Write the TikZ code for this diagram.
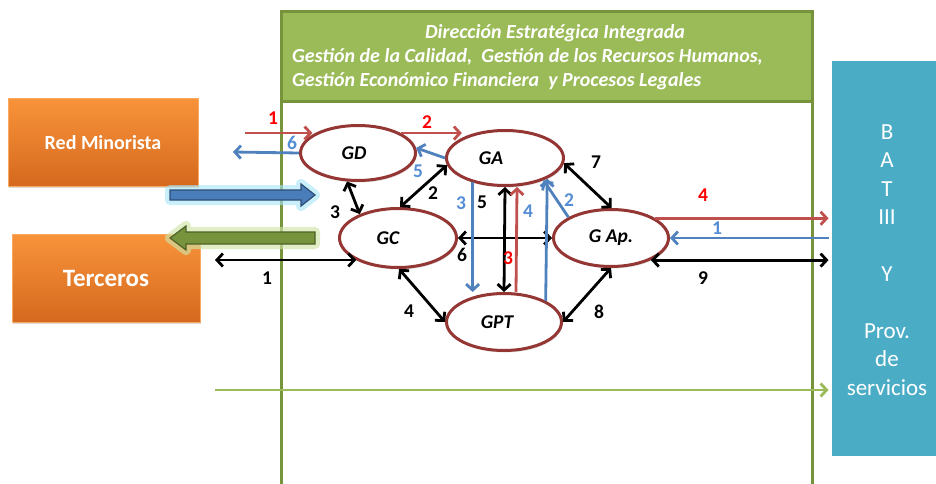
\documentclass[tikz,border=0pt]{standalone}
\usepackage{fontspec}
\setmainfont{Carlito}
\usetikzlibrary{arrows.meta,shapes.geometric,shadows,calc}
\definecolor{ellred}{HTML}{943634}
\definecolor{arrred}{HTML}{C0504D}
\definecolor{arrblue}{HTML}{4F81BD}
\definecolor{lblblue}{HTML}{558ED5}
\definecolor{lblred}{HTML}{FF0000}
\definecolor{hdrgreen}{HTML}{9BBB59}
\definecolor{hdrline}{HTML}{77933C}
\definecolor{tealbox}{HTML}{4BACC6}
\definecolor{orgtop}{HTML}{F8933A}
\definecolor{orgbot}{HTML}{D5691E}
\definecolor{bblue}{HTML}{4A7EBB}
\definecolor{bblueline}{HTML}{2C4D75}
\definecolor{bglow}{HTML}{A5E4F7}
\definecolor{bgreen}{HTML}{77933C}
\definecolor{bgreenline}{HTML}{4F6228}
\definecolor{gglow}{HTML}{CFE3A6}
\begin{document}
\begin{tikzpicture}[x=1pt,y=-1pt,
  frameline/.style={draw=hdrline,line width=3pt},
  header/.style={rectangle,fill=hdrgreen,draw=hdrline,line width=3pt,inner sep=0pt},
  hdrtext/.style={text=white,font=\fontsize{20}{24}\selectfont\bfseries\itshape,inner sep=0pt},
  proc/.style={ellipse,draw=ellred,fill=white,line width=3pt,inner sep=0pt,
    font=\fontsize{19.5}{22}\selectfont\bfseries\itshape,
    drop shadow={shadow xshift=1pt,shadow yshift=-2pt,opacity=0.25}},
  orgbox/.style={rectangle,top color=orgtop,bottom color=orgbot,draw=orgtop!80!white,line width=0.6pt,
    text=white,font=\bfseries,inner sep=0pt,
    drop shadow={shadow xshift=1pt,shadow yshift=-1.5pt,opacity=0.3}},
  tealstyle/.style={rectangle,fill=tealbox,draw=white,line width=3pt,inner sep=0pt,
    drop shadow={shadow xshift=1.5pt,shadow yshift=-1.5pt,opacity=0.3}},
  lbl/.style={font=\fontsize{19.5}{22}\selectfont\bfseries,inner sep=0pt},
  redarr/.style={draw=arrred,line width=2.8pt,-{Straight Barb[length=6pt,width=13pt]}},
  bluearr/.style={draw=arrblue,line width=2.8pt,-{Straight Barb[length=6pt,width=13pt]}},
  blkdbl/.style={draw=black,line width=2.8pt,{Straight Barb[length=6pt,width=13pt]}-{Straight Barb[length=6pt,width=13pt]}},
  greenarr/.style={draw=hdrgreen,line width=2.8pt,-{Straight Barb[length=6pt,width=13pt]}},
]
\useasboundingbox (0,0) rectangle (936,484);

% frame
\coordinate (FLt) at (281,12);
\coordinate (FLb) at (281,484);
\coordinate (FRt) at (812,12);
\coordinate (FRb) at (812,484);
\draw[frameline] (FLt) -- (FLb);
\draw[frameline] (FRt) -- (FRb);

% header
\node[header,minimum width=531,minimum height=90] (HDR) at (546.5,57) {};
\node[hdrtext] (hdr1) at (555,33) {Dirección Estratégica Integrada};
\node[hdrtext,anchor=west] (hdr2) at (292,57) {Gestión de la Calidad,\ \ Gestión de los Recursos Humanos,};
\node[hdrtext,anchor=west] (hdr3) at (292,81) {Gestión Económico Financiera\ \ y Procesos Legales};

% left boxes
\node[orgbox,minimum width=190,minimum height=88,font=\fontsize{20}{24}\selectfont\bfseries] (RM) at (103,142.5) {Red Minorista};
\node[orgbox,minimum width=188,minimum height=88,font=\fontsize{25}{28}\selectfont\bfseries] (TER) at (106,278) {Terceros};

% right box
\node[tealstyle,minimum width=112,minimum height=397] (BAT) at (886,258.5) {};
\node[text=white,align=center,font=\fontsize{23}{28.4}\selectfont,inner sep=0pt] (BATt) at (887,260)
  {B\\A\\T\\III\\[28.4pt]Y\\[28.4pt]Prov.\\de\\servicios};

% processes
\node[proc,minimum width=115,minimum height=55] (GD) at (358,153) {GD\kern8pt};
\node[proc,minimum width=117,minimum height=55] (GA) at (505,158) {GA\kern28pt};
\node[proc,minimum width=117,minimum height=59] (GC) at (398,238) {GC\kern20pt};
\node[proc,minimum width=115,minimum height=57] (GAp) at (611,238) {G Ap.};
\node[proc,minimum width=115,minimum height=57] (GPT) at (504,322) {GPT\kern14pt};

% block arrows
\coordinate (BBs) at (170,195);
\coordinate (BBe) at (315,195);
\coordinate (GBs) at (315,238);
\coordinate (GBe) at (170,238);
\path[draw=bglow,fill=bglow,line width=10pt,line join=round,opacity=0.6]
  (BBs) ++(0,-5) -- ($(BBe)+(-14,-5)$) -- ($(BBe)+(-14,-11)$) -- (BBe) -- ($(BBe)+(-14,11)$) -- ($(BBe)+(-14,5)$) -- ($(BBs)+(0,5)$) -- cycle;
\path[draw=bblueline,fill=bblue,line width=1.2pt,line join=miter]
  (BBs) ++(0,-5) -- ($(BBe)+(-14,-5)$) -- ($(BBe)+(-14,-11)$) -- (BBe) -- ($(BBe)+(-14,11)$) -- ($(BBe)+(-14,5)$) -- ($(BBs)+(0,5)$) -- cycle;
\path[draw=gglow,fill=gglow,line width=10pt,line join=round,opacity=0.65]
  (GBs) ++(0,-6) -- ($(GBe)+(16,-6)$) -- ($(GBe)+(16,-12)$) -- (GBe) -- ($(GBe)+(16,12)$) -- ($(GBe)+(16,6)$) -- ($(GBs)+(0,6)$) -- cycle;
\path[draw=bgreenline,fill=bgreen,line width=1.2pt,line join=miter]
  (GBs) ++(0,-6) -- ($(GBe)+(16,-6)$) -- ($(GBe)+(16,-12)$) -- (GBe) -- ($(GBe)+(16,12)$) -- ($(GBe)+(16,6)$) -- ($(GBs)+(0,6)$) -- cycle;

% free ends
\coordinate (R1s) at (245,133);
\coordinate (B6e) at (233,152);
\coordinate (K1s) at (215,260);
\coordinate (Gls) at (215,390);

% connectors
\draw[redarr] (R1s) -- (R1s -| GD.158);
\draw[bluearr] (GD.west) -- (B6e);
\draw[redarr] (GD.25) -- (GD.25 -| GA.155);
\draw[bluearr] (GA.180) -- (GD.5);
\draw[blkdbl] (GA.187) -- (GC.86);
\draw[blkdbl] (GD.249) -- (GC.148);
\draw[blkdbl] (K1s) -- (K1s -| GC.208);
\draw[blkdbl] (GC.east) -- (GAp.west);
\draw[bluearr] (GA.217) -- (GA.217 |- GPT.north);
\draw[blkdbl] (GA.south) -- (GPT.north);
\draw[redarr] ([xshift=12pt]GPT.north) -- ([xshift=12pt]GA.south);
\draw[bluearr] (GPT.27) -- (GA.-26);
\draw[bluearr] (GAp.154) -- (GA.-30);
\draw[blkdbl] (GA.-5) -- (GAp.89);
\draw[blkdbl] (GC.-88) -- (GPT.180);
\draw[blkdbl] (GAp.-90) -- (GPT.0);
\draw[redarr] (GAp.24) -- (GAp.24 -| BAT.west);
\draw[bluearr] (BAT.west |- GAp.east) -- (GAp.east);
\draw[blkdbl] (GAp.-29) -- (GAp.-29 -| BAT.west);
\draw[greenarr] (Gls) -- (Gls -| BAT.west);

% labels
\node[lbl,text=lblred] (L1) at (273,118) {1};
\node[lbl,text=lblblue] (L2) at (292,143) {6};
\node[lbl,text=lblred] (L3) at (427,122) {2};
\node[lbl,text=lblblue] (L4) at (418,171) {5};
\node[lbl] (L5) at (433,193) {2};
\node[lbl] (L6) at (335,212) {3};
\node[lbl] (L7) at (267,278) {1};
\node[lbl,text=lblblue] (L8) at (461,203) {3};
\node[lbl] (L9) at (482,202) {5};
\node[lbl,text=lblblue] (L10) at (528,211) {4};
\node[lbl,text=lblred] (L11) at (508,258) {3};
\node[lbl] (L12) at (462,255) {6};
\node[lbl,text=lblblue] (L13) at (569,200) {2};
\node[lbl] (L14) at (596,162) {7};
\node[lbl,text=lblred] (L15) at (703,195) {4};
\node[lbl,text=lblblue] (L16) at (717,228) {1};
\node[lbl] (L17) at (703,278) {9};
\node[lbl] (L18) at (409,311) {4};
\node[lbl] (L19) at (599,312) {8};
\end{tikzpicture}
\end{document}
